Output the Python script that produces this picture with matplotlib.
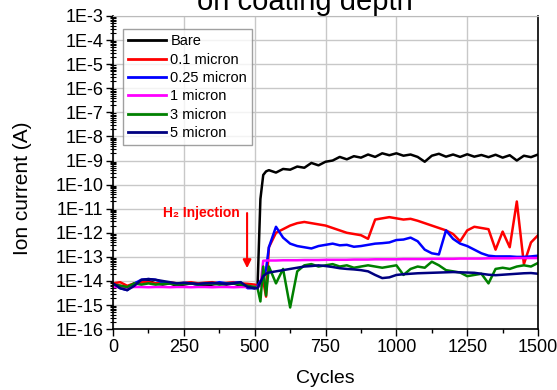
#!/usr/bin/env python3
# -*- coding: utf-8 -*-
"""Ion current vs cycles for different coating depths (log scale)."""

import numpy as np
import matplotlib
matplotlib.use("Agg")
import matplotlib.pyplot as plt
from matplotlib.ticker import FixedLocator, FuncFormatter, LogLocator, NullFormatter, MultipleLocator

plt.rcParams["font.family"] = ["Liberation Sans", "DejaVu Sans"]

# ---- data (log10 of ion current in A) ----
cycles = list(range(0, 501, 25)) + [510, 520, 530, 540] + list(range(550, 1501, 25))

bare_log = [
    -14.15, -14.2, -14.25, -14.1, -14.05, -14.0, -14.1, -14.15, -14.1, -14.2, -14.15,
    -14.1, -14.15, -14.2, -14.15, -14.1, -14.15, -14.1, -14.2, -14.25, -14.3,
    -14.2, -10.6, -9.6, -9.45,
    -9.4, -9.5, -9.35, -9.38, -9.25, -9.3, -9.1, -9.2, -9.05, -9.0,
    -8.85, -8.95, -8.82, -8.88, -8.75, -8.85, -8.7, -8.78, -8.7, -8.8,
    -8.75, -8.85, -9.05, -8.8, -8.72, -8.84, -8.75, -8.85, -8.74, -8.84,
    -8.77, -8.86, -8.76, -8.88, -8.78, -9.0, -8.8, -8.86, -8.75,
]
red_log = [
    -14.1, -14.05, -14.2, -14.1, -14.05, -14.05, -14.1, -14.08, -14.05, -14.1, -14.08,
    -14.05, -14.1, -14.07, -14.05, -14.1, -14.08, -14.05, -14.1, -14.12, -14.15,
    -14.2, -14.1, -14.0, -14.65,
    -12.6, -12.0, -11.85, -11.7, -11.6, -11.55, -11.6, -11.65, -11.7, -11.8,
    -11.9, -12.0, -12.05, -12.1, -12.25, -11.45, -11.4, -11.35, -11.4, -11.45,
    -11.42, -11.5, -11.6, -11.7, -11.8, -11.9, -12.05, -12.35, -11.9, -11.75,
    -11.8, -11.85, -12.7, -11.95, -12.6, -10.7, -13.3, -12.4, -12.1,
]
blue_log = [
    -14.13, -14.3, -14.38, -14.1, -13.95, -13.92, -13.95, -14.05, -14.1, -14.12, -14.08,
    -14.1, -14.15, -14.1, -14.12, -14.05, -14.1, -14.08, -14.05, -14.3, -14.3,
    -14.2, -14.0, -13.9, -13.5,
    -12.6, -11.75, -12.2, -12.45, -12.55, -12.6, -12.65, -12.55, -12.5, -12.45,
    -12.52, -12.5, -12.58, -12.55, -12.5, -12.45, -12.43, -12.4, -12.3, -12.28,
    -12.2, -12.35, -12.7, -12.85, -12.9, -11.9, -12.25, -12.45, -12.55, -12.7,
    -12.85, -12.95, -12.98, -12.98, -12.98, -13.0, -13.0, -12.98, -12.95,
]
magenta_log = [
    -14.25, -14.25, -14.27, -14.25, -14.25, -14.26, -14.25, -14.25, -14.26, -14.25, -14.25,
    -14.26, -14.25, -14.25, -14.26, -14.25, -14.25, -14.26, -14.25, -14.25, -14.25,
    -14.25, -14.2, -13.16, -13.15,
    -13.15, -13.15, -13.14, -13.14, -13.14, -13.13, -13.13, -13.13, -13.12, -13.12,
    -13.12, -13.12, -13.11, -13.11, -13.11, -13.1, -13.1, -13.1, -13.1, -13.09,
    -13.09, -13.09, -13.09, -13.08, -13.08, -13.08, -13.08, -13.07, -13.07, -13.07,
    -13.07, -13.06, -13.06, -13.06, -13.06, -13.05, -13.05, -13.05, -13.05,
]
green_log = [
    -14.15, -14.2, -14.25, -14.1, -14.15, -14.1, -14.15, -14.12, -14.1, -14.15, -14.12,
    -14.1, -14.15, -14.12, -14.1, -14.15, -14.12, -14.1, -14.15, -14.2, -14.25,
    -14.3, -14.85, -13.4, -14.6,
    -13.4, -14.1, -13.5, -15.1, -13.6, -13.35, -13.3, -13.4, -13.35, -13.3,
    -13.4, -13.35, -13.45, -13.4, -13.35, -13.4, -13.45, -13.4, -13.35, -13.75,
    -13.5, -13.4, -13.45, -13.2, -13.35, -13.55, -13.6, -13.65, -13.8, -13.75,
    -13.7, -14.1, -13.5, -13.45, -13.5, -13.4, -13.35, -13.4, -13.25,
]
navy_log = [
    -14.1, -14.3, -14.38, -14.2, -13.95, -13.92, -13.95, -14.0, -14.05, -14.1, -14.08,
    -14.1, -14.12, -14.1, -14.08, -14.1, -14.12, -14.1, -14.05, -14.25, -14.3,
    -14.3, -14.05, -13.8, -13.7,
    -13.65, -13.6, -13.55, -13.5, -13.45, -13.4, -13.38, -13.35, -13.38, -13.42,
    -13.47, -13.5, -13.52, -13.55, -13.6, -13.75, -13.88, -13.85, -13.75, -13.72,
    -13.7, -13.68, -13.67, -13.66, -13.65, -13.64, -13.63, -13.64, -13.65, -13.66,
    -13.7, -13.74, -13.76, -13.74, -13.72, -13.7, -13.68, -13.67, -13.7,
]

labels = ["Bare", "0.1 micron", "0.25 micron", "1 micron", "3 micron", "5 micron"]
colors = ["black", "#ff0000", "#0000ff", "#ff00ff", "#008000", "#000080"]
series = [bare_log, red_log, blue_log, magenta_log, green_log, navy_log]

# H2 injection arrow (cycle, current)
inj_cycle = 473
inj_top = 6.6e-12
inj_tip = 3.4e-14


def main():
    fig = plt.figure(figsize=(5.57, 3.90), dpi=100)
    ax = fig.add_axes([0.203, 0.156, 0.763, 0.803])

    x = np.array(cycles)
    for vals, lab, col in zip(series, labels, colors):
        ax.plot(x, 10.0 ** np.array(vals), color=col, lw=1.8, label=lab)

    ax.set_yscale("log")
    ax.set_xlim(0, 1500)
    ax.set_ylim(1e-16, 1e-3)

    ax.xaxis.set_major_locator(MultipleLocator(250))
    ax.xaxis.set_minor_locator(MultipleLocator(125))
    ax.yaxis.set_major_locator(FixedLocator([10.0 ** e for e in range(-16, -2)]))
    ax.yaxis.set_major_formatter(FuncFormatter(lambda v, p: f"1E{int(round(np.log10(v)))}"))
    ax.yaxis.set_minor_locator(LogLocator(base=10, subs=np.arange(2, 10), numticks=30))
    ax.yaxis.set_minor_formatter(NullFormatter())

    ax.tick_params(axis="both", which="major", direction="out", length=5, width=1,
                   labelsize=13, colors="black", pad=2)
    ax.tick_params(axis="x", which="minor", direction="out", length=3, width=1)
    ax.tick_params(axis="y", which="minor", direction="inout", length=4, width=0.8)

    ax.grid(True, which="major", color="#c8c8c8", lw=1)
    ax.set_axisbelow(True)
    for side in ["left", "bottom", "right"]:
        ax.spines[side].set_color("black")
        ax.spines[side].set_linewidth(1.2)
    ax.spines["top"].set_color("#bbbbbb")

    ax.set_xlabel("Cycles", fontsize=14)
    ax.xaxis.set_label_coords(0.5, -0.13)
    ax.set_ylabel("Ion current (A)", fontsize=15)
    ax.yaxis.set_label_coords(-0.19, 0.45)
    fig.text(0.548, 0.974, "on coating depth", fontsize=21, ha="center", va="baseline")

    leg = ax.legend(loc="upper left", bbox_to_anchor=(0.0235, 0.958), fontsize=10.5,
                    frameon=True, fancybox=False, edgecolor="#888888",
                    handlelength=2.6, handletextpad=0.3, labelspacing=0.3,
                    borderpad=0.35, borderaxespad=0.0)
    leg.get_frame().set_linewidth(1.0)
    for h in leg.get_lines():
        h.set_linewidth(2)

    ax.annotate("", xy=(inj_cycle, inj_tip), xytext=(inj_cycle, inj_top),
                arrowprops=dict(arrowstyle="-|>", color="#ff0000", lw=1.5,
                                mutation_scale=12, shrinkA=0, shrinkB=0))
    ax.text(inj_cycle - 26, inj_top, "H\u2082 Injection", color="#ff0000",
            fontsize=10, fontweight="bold", ha="right", va="center",
            family=["Liberation Sans", "DejaVu Sans"])

    fig.savefig("out.png", dpi=100)
    plt.close(fig)


if __name__ == "__main__":
    main()
